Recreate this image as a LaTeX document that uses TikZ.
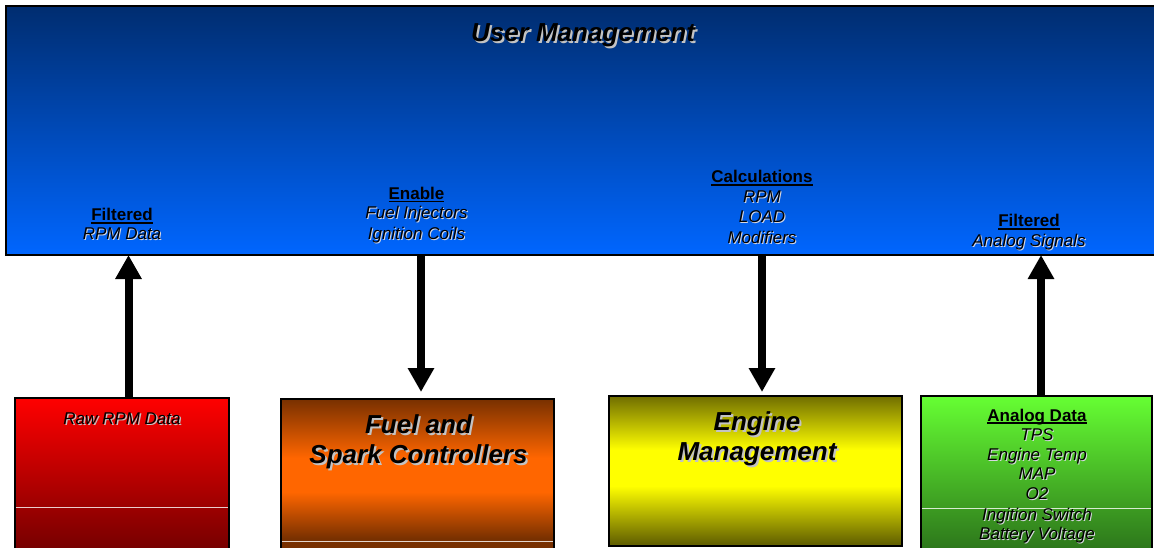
\documentclass[tikz,border=0pt]{standalone}
\usepackage{fontspec}
\setmainfont{Liberation Sans}
\usetikzlibrary{arrows.meta}
\definecolor{shgray}{RGB}{195,195,195}
\definecolor{shlight}{RGB}{215,215,225}
\definecolor{blueTop}{RGB}{0,45,112}
\definecolor{blueBot}{RGB}{0,102,255}
\definecolor{redTop}{RGB}{255,0,0}
\definecolor{redBot}{RGB}{110,0,0}
\definecolor{brownC}{RGB}{120,48,0}
\definecolor{orangeC}{RGB}{255,102,0}
\definecolor{oliveTop}{RGB}{112,110,0}
\definecolor{yellowC}{RGB}{255,255,0}
\definecolor{oliveBot}{RGB}{100,98,0}
\definecolor{greenTop}{RGB}{102,255,51}
\definecolor{greenBot}{RGB}{42,112,26}
\pgfdeclareverticalshading{orangesh}{100bp}{color(0bp)=(brownC); color(30bp)=(brownC); color(45bp)=(orangeC); color(56bp)=(orangeC); color(75bp)=(brownC); color(100bp)=(brownC)}
\pgfdeclareverticalshading{yellowsh}{100bp}{color(0bp)=(oliveBot); color(26bp)=(oliveBot); color(45bp)=(yellowC); color(57bp)=(yellowC); color(75bp)=(oliveTop); color(100bp)=(oliveTop)}
\newcommand\shtxt[2][1.5pt]{\leavevmode\rlap{\hspace{#1}\raisebox{-#1}{\textcolor{shgray}{#2}}}#2}
\newcommand\shlt[1]{\leavevmode\rlap{\hspace{1pt}\raisebox{-1pt}{\textcolor{shlight}{#1}}}#1}
\newcommand\myul[1]{\setbox0\hbox{#1}\rlap{\rule[-3pt]{\wd0}{1.8pt}}\box0}
\tikzset{
  lbl/.style={font=\fontsize{17}{20}\selectfont\itshape, anchor=base, inner sep=0pt},
  hd/.style={font=\fontsize{17}{20}\selectfont\bfseries, anchor=base, inner sep=0pt},
  bigtxt/.style={font=\fontsize{26}{30}\selectfont\bfseries\itshape, anchor=base, inner sep=0pt},
  panel/.style={draw=black, line width=1.5pt, anchor=north west, inner sep=0pt, outer sep=0pt},
  sepline/.style={draw=white, opacity=0.8, line width=0.9pt},
  bigarrow/.style={draw=black, line width=8pt, -{Triangle[width=25pt,length=24pt]}}
}
\begin{document}
\begin{tikzpicture}[x=1pt,y=-1pt]
\useasboundingbox (0,0) rectangle (1154,548);
\clip (0,0) rectangle (1154,548);
\fill[white] (0,0) rectangle (1154,548);

% top panel
\node[panel, top color=blueTop, bottom color=blueBot, minimum width=1170pt, minimum height=249pt] (user) at (6,6) {};
\node[bigtxt] (title) at (583,42) {\shtxt[2pt]{User Management}};

\node[hd]  (f1h) at (122,221)   {\myul{Filtered}};
\node[lbl] (f1a) at (122,240)   {\shlt{RPM Data}};
\node[hd]  (e1h) at (416.5,199.5) {\myul{Enable}};
\node[lbl] (e1a) at (416.5,219) {\shlt{Fuel Injectors}};
\node[lbl] (e1b) at (416.5,240) {\shlt{Ignition Coils}};
\node[hd]  (c1h) at (762,183)   {\myul{Calculations}};
\node[lbl] (c1a) at (762,203)   {\shlt{RPM}};
\node[lbl] (c1b) at (762,223)   {\shlt{LOAD}};
\node[lbl] (c1c) at (762,243.5) {\shlt{Modifiers}};
\node[hd]  (f2h) at (1029,227)  {\myul{Filtered}};
\node[lbl] (f2a) at (1029,246.5){\shlt{Analog Signals}};

% bottom panels
\node[panel, top color=redTop, bottom color=redBot, minimum width=214pt, minimum height=160pt] (raw) at (15,398) {};
\node[panel, shading=orangesh, minimum width=273pt, minimum height=155pt] (fuel) at (281,399) {};
\node[panel, shading=yellowsh, minimum width=293pt, minimum height=150pt] (eng) at (609,396) {};
\node[panel, top color=greenTop, bottom color=greenBot, minimum width=231pt, minimum height=160pt] (ana) at (921,396) {};

\draw[sepline] (15.75,507) -- (228.25,507);
\draw[sepline] (281.75,541) -- (553.25,541);
\draw[sepline] (921.75,508) -- (1151.25,508);

\node[lbl] (rawt) at (122,424) {\shtxt[1.5pt]{Raw RPM Data}};
\node[bigtxt] (fuela) at (418.5,433) {\shtxt[2pt]{Fuel and}};
\node[bigtxt] (fuelb) at (418.5,463.5) {\shtxt[2pt]{Spark Controllers}};
\node[bigtxt] (enga) at (757,430) {\shtxt[2pt]{Engine}};
\node[bigtxt] (engb) at (757,460) {\shtxt[2pt]{Management}};

\node[hd]  (g0) at (1037,421) {\myul{Analog Data}};
\node[lbl] (g1) at (1037,440) {\shlt{TPS}};
\node[lbl] (g2) at (1037,460) {\shlt{Engine Temp}};
\node[lbl] (g3) at (1037,479) {\shlt{MAP}};
\node[lbl] (g4) at (1037,499) {\shlt{O2}};
\node[lbl] (g5) at (1037,520) {\shlt{Ingition Switch}};
\node[lbl] (g6) at (1037,539) {\shlt{Battery Voltage}};

% arrows
\coordinate (a1) at (128.5,0);
\coordinate (a2) at (421,0);
\coordinate (a3) at (762,0);
\coordinate (a4) at (1041,0);
\draw[bigarrow] (raw.north -| a1) -- (user.south -| a1);
\draw[bigarrow, shorten >=7pt] (user.south -| a2) -- (fuel.north -| a2);
\draw[bigarrow, shorten >=4pt] (user.south -| a3) -- (eng.north -| a3);
\draw[bigarrow] (ana.north -| a4) -- (user.south -| a4);
\end{tikzpicture}
\end{document}
